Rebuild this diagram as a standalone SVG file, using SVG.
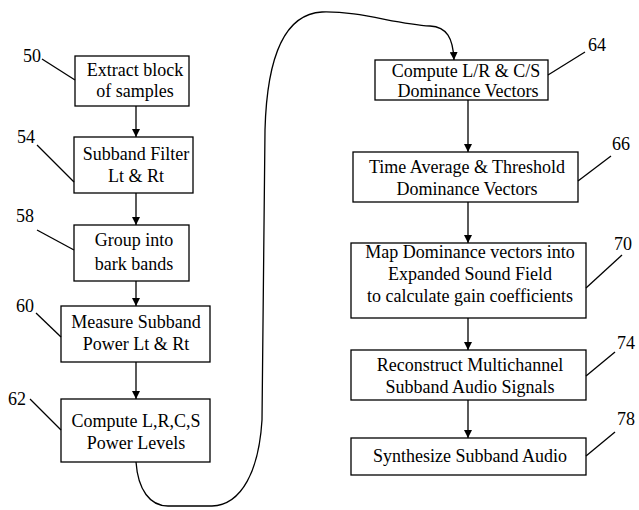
<svg xmlns="http://www.w3.org/2000/svg" width="639" height="510" viewBox="0 0 639 510">
<style>
.box{fill:#fff;stroke:#000;stroke-width:1.3}
.t{font-family:"Liberation Serif","Times New Roman",serif;font-size:18px;fill:#000;text-anchor:middle}
.lab{font-family:"Liberation Serif","Times New Roman",serif;font-size:18px;fill:#000}
.ln{fill:none;stroke:#000;stroke-width:1.3}
</style>
<defs>
<marker id="ah" viewBox="0 0 10 10" refX="10" refY="5" markerWidth="8" markerHeight="8" markerUnits="userSpaceOnUse" orient="auto">
<path d="M0,0 L10,5 L0,10 z" fill="#000"/>
</marker>
</defs>
<rect width="639" height="510" fill="#fff"/>
<g id="connectors">
<line class="ln" x1="136" y1="106" x2="136" y2="137" marker-end="url(#ah)"/>
<line class="ln" x1="136" y1="193" x2="136" y2="225" marker-end="url(#ah)"/>
<line class="ln" x1="136" y1="281" x2="136" y2="306" marker-end="url(#ah)"/>
<line class="ln" x1="136" y1="362" x2="136" y2="399" marker-end="url(#ah)"/>
<path class="ln" d="M136,462 C138,490 150,506 168,506 L212,506 C242,505 259,470 262,420 L265,130 C267,55 285,14 322,12 C360,11 395,24 430,26 C447,27 453,38 454,60" marker-end="url(#ah)"/>
<line class="ln" x1="468" y1="100" x2="468" y2="152" marker-end="url(#ah)"/>
<line class="ln" x1="468" y1="202" x2="468" y2="243" marker-end="url(#ah)"/>
<line class="ln" x1="468" y1="318" x2="468" y2="350" marker-end="url(#ah)"/>
<line class="ln" x1="468" y1="400" x2="468" y2="438" marker-end="url(#ah)"/>
</g>
<g id="n50">
<rect class="box" x="75" y="56" width="114" height="50"/>
<text class="t" x="135" y="76">Extract block</text>
<text class="t" x="135" y="97">of samples</text>
<text class="lab" x="23" y="62">50</text>
<line class="ln" x1="42" y1="59" x2="75" y2="80"/>
</g>
<g id="n54">
<rect class="box" x="74" y="137" width="119" height="56"/>
<text class="t" x="136" y="160">Subband Filter</text>
<text class="t" x="136" y="182">Lt &amp; Rt</text>
<text class="lab" x="17" y="143">54</text>
<line class="ln" x1="37" y1="145" x2="74" y2="182"/>
</g>
<g id="n58">
<rect class="box" x="74" y="225" width="115" height="56"/>
<text class="t" x="134" y="246">Group into</text>
<text class="t" x="134" y="270">bark bands</text>
<text class="lab" x="16" y="222">58</text>
<line class="ln" x1="37" y1="230" x2="74" y2="250"/>
</g>
<g id="n60">
<rect class="box" x="61" y="306" width="149" height="56"/>
<text class="t" x="136" y="328">Measure Subband</text>
<text class="t" x="136" y="350">Power Lt &amp; Rt</text>
<text class="lab" x="16" y="312">60</text>
<line class="ln" x1="36" y1="313" x2="61" y2="337"/>
</g>
<g id="n62">
<rect class="box" x="61" y="399" width="149" height="63"/>
<text class="t" x="136" y="427">Compute L,R,C,S</text>
<text class="t" x="136" y="449">Power Levels</text>
<text class="lab" x="8" y="405">62</text>
<line class="ln" x1="30" y1="399" x2="61" y2="430"/>
</g>
<g id="n64">
<rect class="box" x="375" y="60" width="173" height="40"/>
<text class="t" x="466" y="77">Compute L/R &amp; C/S</text>
<text class="t" x="468" y="97">Dominance Vectors</text>
<text class="lab" x="588" y="51">64</text>
<line class="ln" x1="548" y1="75" x2="585" y2="52"/>
</g>
<g id="n66">
<rect class="box" x="353" y="152" width="225" height="50"/>
<text class="t" x="467" y="173">Time Average &amp; Threshold</text>
<text class="t" x="467" y="195">Dominance Vectors</text>
<text class="lab" x="612" y="150">66</text>
<line class="ln" x1="578" y1="181" x2="611" y2="156"/>
</g>
<g id="n70">
<rect class="box" x="351" y="243" width="235" height="75"/>
<text class="t" x="470" y="258">Map Dominance vectors into</text>
<text class="t" x="470" y="280">Expanded Sound Field</text>
<text class="t" x="470" y="302">to calculate gain coefficients</text>
<text class="lab" x="614" y="250">70</text>
<line class="ln" x1="586" y1="288" x2="622" y2="255"/>
</g>
<g id="n74">
<rect class="box" x="351" y="350" width="235" height="50"/>
<text class="t" x="470" y="371">Reconstruct Multichannel</text>
<text class="t" x="470" y="393">Subband Audio Signals</text>
<text class="lab" x="617" y="349">74</text>
<line class="ln" x1="586" y1="376" x2="615" y2="352"/>
</g>
<g id="n78">
<rect class="box" x="351" y="438" width="235" height="37"/>
<text class="t" x="470" y="462">Synthesize Subband Audio</text>
<text class="lab" x="617" y="425">78</text>
<line class="ln" x1="586" y1="456" x2="615" y2="432"/>
</g>
</svg>
